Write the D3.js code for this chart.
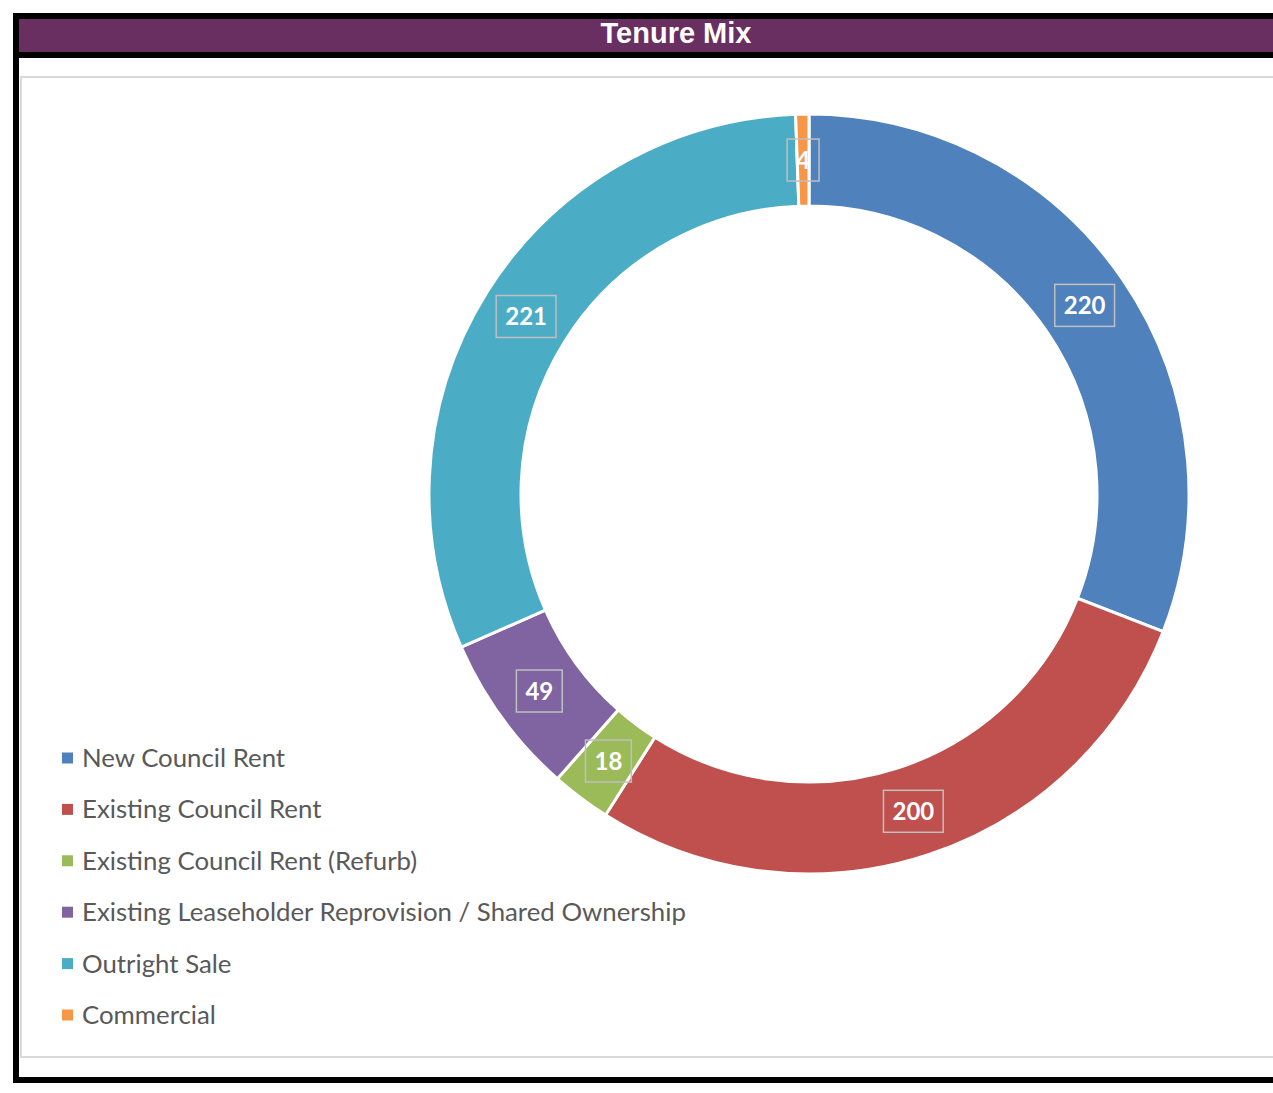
<!DOCTYPE html>
<html>
<head>
<meta charset="utf-8">
<script src="https://cdn.jsdelivr.net/npm/d3@7"></script>
<style>
  body { margin: 0; background: #fff; }
  svg { display: block; }
</style>
</head>
<body>
<div id="chart"></div>
<script>
var categories = ["New Council Rent", "Existing Council Rent", "Existing Council Rent (Refurb)",
    "Existing Leaseholder Reprovision / Shared Ownership", "Outright Sale", "Commercial"];
var values = [220, 200, 18, 49, 221, 4];
var colors = ["#4f81bd", "#c0504d", "#9bbb59", "#8064a2", "#4bacc6", "#f79646"];
var title = "Tenure Mix";

var width = 1273;
var height = 1093;

var svg = d3.select('#chart')
    .append('svg')
    .attr('width', width)
    .attr('height', height);

// frame + title bar
svg.append('rect').attr('x', 13).attr('y', 13).attr('width', width).attr('height', 45).attr('fill', '#000');
svg.append('rect').attr('x', 19).attr('y', 19).attr('width', width).attr('height', 33).attr('fill', '#692f61');
svg.append('rect').attr('x', 13).attr('y', 13).attr('width', 6).attr('height', 1070).attr('fill', '#000');
svg.append('rect').attr('x', 13).attr('y', 1077).attr('width', width).attr('height', 6).attr('fill', '#000');
svg.append('text')
    .attr('x', 676).attr('y', 43)
    .attr('text-anchor', 'middle')
    .style('font-family', '"Liberation Sans", Arial, sans-serif')
    .style('font-weight', 'bold')
    .style('font-size', '29px')
    .style('fill', '#fff')
    .text(title);

// chart area border
svg.append('rect')
    .attr('x', 21).attr('y', 77).attr('width', width).attr('height', 980)
    .attr('fill', 'none').attr('stroke', '#d9d9d9').attr('stroke-width', 2);

var cx = 809, cy = 494;
var outerR = 380, innerR = 288;

var g = svg.append('g').attr('transform', 'translate(' + cx + ',' + cy + ')');

var pie = d3.pie().sort(null).value(function (d) { return d; });
var arcs = pie(values);

var arc = d3.arc().innerRadius(innerR).outerRadius(outerR);
var labelArc = d3.arc().innerRadius((innerR + outerR) / 2).outerRadius((innerR + outerR) / 2);

g.selectAll('path')
    .data(arcs)
    .enter().append('path')
    .attr('d', arc)
    .style('fill', function (d, i) { return colors[i]; })
    .style('stroke', '#fff')
    .style('stroke-width', 3);

var labels = g.selectAll('g.lbl')
    .data(arcs)
    .enter().append('g')
    .attr('class', 'lbl')
    .attr('transform', function (d) {
        var c = labelArc.centroid(d);
        return 'translate(' + c[0] + ',' + c[1] + ')';
    });

labels.append('text')
    .attr('text-anchor', 'middle')
    .attr('dy', '0.36em')
    .style('font-family', 'Lato, "Open Sans", sans-serif')
    .style('font-weight', 'bold')
    .style('font-size', '24px')
    .style('fill', '#fff')
    .text(function (d) { return d.data; });

labels.each(function () {
    var grp = d3.select(this);
    var w = grp.select('text').node().getComputedTextLength();
    grp.insert('rect', 'text')
        .attr('x', -w / 2 - 9).attr('y', -21)
        .attr('width', w + 18).attr('height', 42)
        .attr('fill', 'none')
        .attr('stroke', '#bfbfbf')
        .attr('stroke-width', 1.5);
});

// legend
var legend = svg.selectAll('g.legend')
    .data(categories)
    .enter().append('g')
    .attr('class', 'legend')
    .attr('transform', function (d, i) { return 'translate(62,' + (758 + i * 51.4) + ')'; });

legend.append('rect')
    .attr('x', 0).attr('y', -5.5)
    .attr('width', 11).attr('height', 11)
    .attr('fill', function (d, i) { return colors[i]; });

legend.append('text')
    .attr('x', 20).attr('dy', '0.35em')
    .style('font-family', 'Lato, "Open Sans", sans-serif')
    .style('font-size', '25.8px')
    .style('fill', '#595959')
    .text(function (d) { return d; });
</script>
</body>
</html>
